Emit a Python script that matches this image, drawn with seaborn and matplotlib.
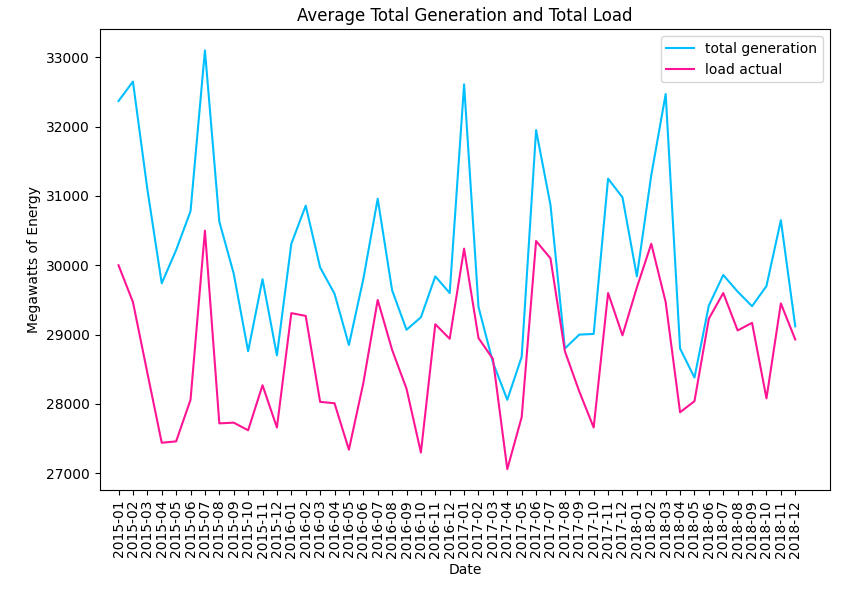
import pandas as pd
import matplotlib.pyplot as plt
import seaborn as sns

months = [f"{y}-{m:02d}" for y in range(2015, 2019) for m in range(1, 13)]

total_generation = [
    32370, 32650, 31100, 29740, 30220, 30780, 33100, 30630, 29880, 28760, 29800, 28700,
    30310, 30860, 29970, 29590, 28850, 29800, 30960, 29640, 29070, 29250, 29840, 29600,
    32610, 29400, 28600, 28060, 28680, 31950, 30870, 28800, 29000, 29010, 31250, 30980,
    29840, 31300, 32470, 28800, 28380, 29420, 29860, 29620, 29410, 29700, 30650, 29120,
]
load_actual = [
    30000, 29470, 28450, 27440, 27460, 28060, 30500, 27720, 27730, 27620, 28270, 27660,
    29310, 29270, 28030, 28010, 27340, 28300, 29500, 28780, 28220, 27300, 29150, 28940,
    30240, 28950, 28650, 27060, 27810, 30350, 30100, 28760, 28180, 27660, 29600, 28990,
    29680, 30310, 29470, 27880, 28040, 29230, 29600, 29060, 29170, 28080, 29450, 28930,
]

df = pd.DataFrame({'Date': months, 'total generation': total_generation, 'load actual': load_actual})

fig, ax = plt.subplots(figsize=(8.68, 5.89), dpi=100)
sns.lineplot(data=df, x='Date', y='total generation', color='deepskyblue', label='total generation', ax=ax)
sns.lineplot(data=df, x='Date', y='load actual', color='deeppink', label='load actual', ax=ax)

ax.set_title('Average Total Generation and Total Load')
ax.set_xlabel('Date')
ax.set_ylabel('Megawatts of Energy')
ax.tick_params(axis='x', rotation=90)
ax.set_xlim(-1.3, 49.4)
ax.legend(loc='upper right')
fig.subplots_adjust(left=0.115, right=0.956, top=0.95, bottom=0.168)
fig.savefig('out.png', dpi=100)
